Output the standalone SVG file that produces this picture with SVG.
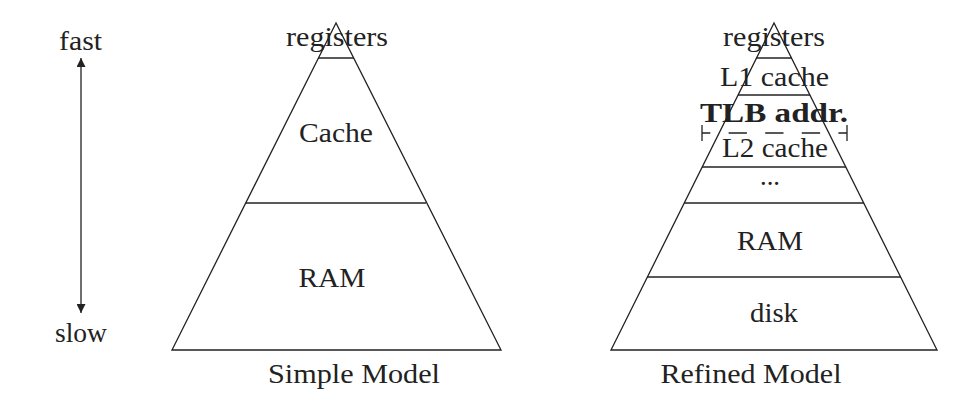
<svg xmlns="http://www.w3.org/2000/svg" width="964" height="415" viewBox="0 0 964 415">
  <defs>
    <marker id="ah" viewBox="0 0 10 10" refX="10" refY="5" markerWidth="13" markerHeight="9" markerUnits="userSpaceOnUse" orient="auto-start-reverse">
      <path d="M0,0 L10,5 L0,10 Z" fill="#222"/>
    </marker>
    <style>
      .ln { stroke: #222; stroke-width: 1.3; fill: none; }
      .t { font-family: "Liberation Serif", "Times New Roman", serif; font-size: 28px; fill: #222; text-anchor: middle; }
      .b { font-weight: bold; }
    </style>
  </defs>
  <rect width="964" height="415" fill="#fff"/>

  <!-- Left: simple model -->
  <g id="simple-pyramid">
    <path class="ln" d="M336,23 L172,350 L501,350 Z"/>
  </g>
  <g id="simple-registers">
    <line class="ln" x1="318" y1="58" x2="354" y2="58"/>
    <text class="t" x="337" y="46" textLength="102" lengthAdjust="spacingAndGlyphs">registers</text>
  </g>
  <g id="simple-cache">
    <line class="ln" x1="246" y1="203" x2="426" y2="203"/>
    <text class="t" x="336" y="142" textLength="74" lengthAdjust="spacingAndGlyphs">Cache</text>
  </g>
  <g id="simple-ram">
    <text class="t" x="332" y="287" textLength="67" lengthAdjust="spacingAndGlyphs">RAM</text>
  </g>
  <g id="simple-caption">
    <text class="t" x="354" y="383" textLength="172" lengthAdjust="spacingAndGlyphs">Simple Model</text>
  </g>

  <!-- Right: refined model -->
  <g id="refined-pyramid">
    <path class="ln" d="M774,23 L611,350 L937,350 Z"/>
  </g>
  <g id="refined-registers">
    <line class="ln" x1="756" y1="58" x2="792" y2="58"/>
    <text class="t" x="774" y="46" textLength="102" lengthAdjust="spacingAndGlyphs">registers</text>
  </g>
  <g id="refined-l1">
    <line class="ln" x1="738" y1="95" x2="810" y2="95"/>
    <text class="t" x="774.5" y="86" textLength="109" lengthAdjust="spacingAndGlyphs">L1 cache</text>
  </g>
  <g id="refined-tlb">
    <line class="ln" x1="702" y1="133" x2="847" y2="133" stroke-dasharray="18.3 18.3" stroke-dashoffset="10"/>
    <line class="ln" x1="702" y1="125" x2="702" y2="141"/>
    <line class="ln" x1="847" y1="125" x2="847" y2="141"/>
    <text class="t b" x="774" y="122" textLength="148" lengthAdjust="spacingAndGlyphs">TLB addr.</text>
  </g>
  <g id="refined-l2">
    <line class="ln" x1="702" y1="167" x2="846" y2="167"/>
    <text class="t" x="775" y="157" textLength="106" lengthAdjust="spacingAndGlyphs">L2 cache</text>
  </g>
  <g id="refined-dots">
    <line class="ln" x1="684" y1="203" x2="864" y2="203"/>
    <text class="t" x="770" y="185" textLength="20" lengthAdjust="spacingAndGlyphs">...</text>
  </g>
  <g id="refined-ram">
    <line class="ln" x1="647" y1="277" x2="901" y2="277"/>
    <text class="t" x="770" y="250" textLength="66" lengthAdjust="spacingAndGlyphs">RAM</text>
  </g>
  <g id="refined-disk">
    <text class="t" x="774" y="322" textLength="48" lengthAdjust="spacingAndGlyphs">disk</text>
  </g>
  <g id="refined-caption">
    <text class="t" x="751" y="383" textLength="181" lengthAdjust="spacingAndGlyphs">Refined Model</text>
  </g>

  <!-- Speed axis -->
  <g id="fast">
    <text class="t" x="80.5" y="50" textLength="43" lengthAdjust="spacingAndGlyphs">fast</text>
  </g>
  <g id="slow">
    <text class="t" x="81" y="342" textLength="52" lengthAdjust="spacingAndGlyphs">slow</text>
  </g>
  <g id="connectors">
    <line class="ln" x1="81" y1="58" x2="81" y2="313" marker-start="url(#ah)" marker-end="url(#ah)"/>
  </g>
</svg>
